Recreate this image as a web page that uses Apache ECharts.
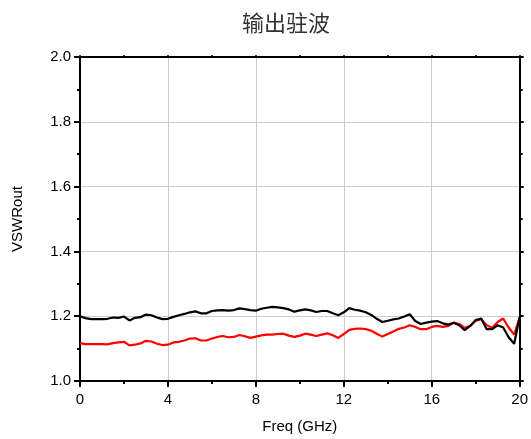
<!DOCTYPE html>
<html>
<head>
<meta charset="utf-8">
<title>输出驻波</title>
<script src="https://cdn.jsdelivr.net/npm/echarts@6/dist/echarts.min.js"></script>
<style>
  html, body { margin: 0; padding: 0; background: #fff; }
  #chart { width: 531px; height: 439px; }
</style>
</head>
<body>
<div id="chart"></div>
<script>
// frequency grid (GHz)
var freq = [
  0, 0.25, 0.5, 0.75, 1, 1.25, 1.5, 1.75, 2, 2.25, 2.5, 2.75,
  3, 3.25, 3.5, 3.75, 4, 4.25, 4.5, 4.75, 5, 5.25, 5.5, 5.75,
  6, 6.25, 6.5, 6.75, 7, 7.25, 7.5, 7.75, 8, 8.25, 8.5, 8.75,
  9, 9.25, 9.5, 9.75, 10, 10.25, 10.5, 10.75, 11, 11.25, 11.5, 11.75,
  12, 12.25, 12.5, 12.75, 13, 13.25, 13.5, 13.75, 14, 14.25, 14.5, 14.75,
  15, 15.25, 15.5, 15.75, 16, 16.25, 16.5, 16.75, 17, 17.25, 17.5, 17.75,
  18, 18.25, 18.5, 18.75, 19, 19.25, 19.5, 19.75, 20
]

// black curve
var vswrBlack = [
  1.200, 1.194, 1.191, 1.191, 1.191, 1.192, 1.196, 1.195, 1.199, 1.187, 1.195, 1.197,
  1.205, 1.203, 1.196, 1.191, 1.192, 1.198, 1.203, 1.207, 1.212, 1.215, 1.209, 1.209,
  1.216, 1.218, 1.219, 1.217, 1.219, 1.224, 1.222, 1.219, 1.217, 1.223, 1.226, 1.229,
  1.227, 1.225, 1.221, 1.214, 1.218, 1.221, 1.218, 1.213, 1.216, 1.216, 1.209, 1.203,
  1.212, 1.225, 1.220, 1.217, 1.212, 1.204, 1.192, 1.182, 1.186, 1.190, 1.193, 1.199,
  1.206, 1.185, 1.176, 1.180, 1.183, 1.185, 1.178, 1.174, 1.180, 1.172, 1.157, 1.170,
  1.188, 1.193, 1.160, 1.160, 1.172, 1.165, 1.135, 1.115, 1.198
]

// red curve
var vswrRed = [
  1.117, 1.114, 1.114, 1.114, 1.114, 1.113, 1.117, 1.119, 1.121, 1.110, 1.112, 1.116,
  1.124, 1.122, 1.115, 1.111, 1.112, 1.119, 1.121, 1.125, 1.131, 1.132, 1.125, 1.125,
  1.131, 1.136, 1.139, 1.135, 1.136, 1.142, 1.138, 1.133, 1.137, 1.141, 1.143, 1.143,
  1.145, 1.146, 1.140, 1.136, 1.140, 1.146, 1.143, 1.139, 1.143, 1.147, 1.141, 1.133,
  1.145, 1.158, 1.161, 1.162, 1.160, 1.155, 1.146, 1.137, 1.145, 1.153, 1.161, 1.165,
  1.172, 1.167, 1.160, 1.160, 1.167, 1.170, 1.167, 1.170, 1.180, 1.176, 1.164, 1.170,
  1.186, 1.191, 1.172, 1.164, 1.182, 1.193, 1.165, 1.143, 1.196
]

var chart = echarts.init(document.getElementById('chart'))

function pairs(ys) {
  return freq.map(function (f, i) { return [f, ys[i]] })
}

var axisLine = { show: true, onZero: false, lineStyle: { color: '#000', width: 2 } }
var labelFont = 'Liberation Sans, Arial, sans-serif'

chart.setOption({
  animation: false,
  title: {
    text: '输出驻波',
    left: 237,
    top: 7,
    textStyle: {
      fontFamily: 'Noto Sans CJK SC',
      fontWeight: 'normal',
      fontSize: 22,
      color: '#333'
    }
  },
  grid: { left: 80, right: 8, top: 57, bottom: 56 },
  xAxis: [
    {
      type: 'value', position: 'bottom',
      min: 0, max: 20, interval: 4,
      axisLine: axisLine,
      axisTick: { length: 6, lineStyle: { color: '#000', width: 2 } },
      minorTick: { show: true, splitNumber: 2, length: 3, lineStyle: { color: '#000', width: 2 } },
      splitLine: { show: true, lineStyle: { color: '#cccccc', width: 1 } },
      axisLabel: { fontSize: 15, color: '#000', fontFamily: labelFont, margin: 11 },
      name: 'Freq (GHz)', nameLocation: 'middle', nameGap: 38,
      nameTextStyle: { fontSize: 15, color: '#000', fontFamily: labelFont }
    },
    {
      type: 'value', position: 'top',
      min: 0, max: 20, interval: 4,
      axisLine: axisLine,
      axisTick: { length: 2, lineStyle: { color: '#000', width: 1.5 } },
      minorTick: { show: true, splitNumber: 2, length: 2, lineStyle: { color: '#000', width: 1.5 } },
      splitLine: { show: false },
      axisLabel: { show: false }
    }
  ],
  yAxis: [
    {
      type: 'value', position: 'left',
      min: 1, max: 2, interval: 0.2,
      axisLine: axisLine,
      axisTick: { length: 6, lineStyle: { color: '#000', width: 2 } },
      minorTick: { show: true, splitNumber: 2, length: 3, lineStyle: { color: '#000', width: 2 } },
      splitLine: { show: true, lineStyle: { color: '#cccccc', width: 1 } },
      axisLabel: {
        fontSize: 15, color: '#000', fontFamily: labelFont, margin: 9,
        formatter: function (v) { return v.toFixed(1) }
      },
      name: 'VSWRout', nameLocation: 'middle', nameGap: 55,
      nameTextStyle: { fontSize: 15, color: '#000', fontFamily: labelFont }
    },
    {
      type: 'value', position: 'right',
      min: 1, max: 2, interval: 0.2,
      axisLine: axisLine,
      axisTick: { length: 4, lineStyle: { color: '#000', width: 2 } },
      minorTick: { show: true, splitNumber: 2, length: 3, lineStyle: { color: '#000', width: 2 } },
      splitLine: { show: false },
      axisLabel: { show: false }
    }
  ],
  series: [
    {
      name: 'black', type: 'line',
      data: pairs(vswrBlack),
      showSymbol: false,
      lineStyle: { color: '#000', width: 2.2 },
      z: 3
    },
    {
      name: 'red', type: 'line',
      data: pairs(vswrRed),
      showSymbol: false,
      lineStyle: { color: '#ff0000', width: 2.2 },
      z: 2
    }
  ]
})
</script>
</body>
</html>
